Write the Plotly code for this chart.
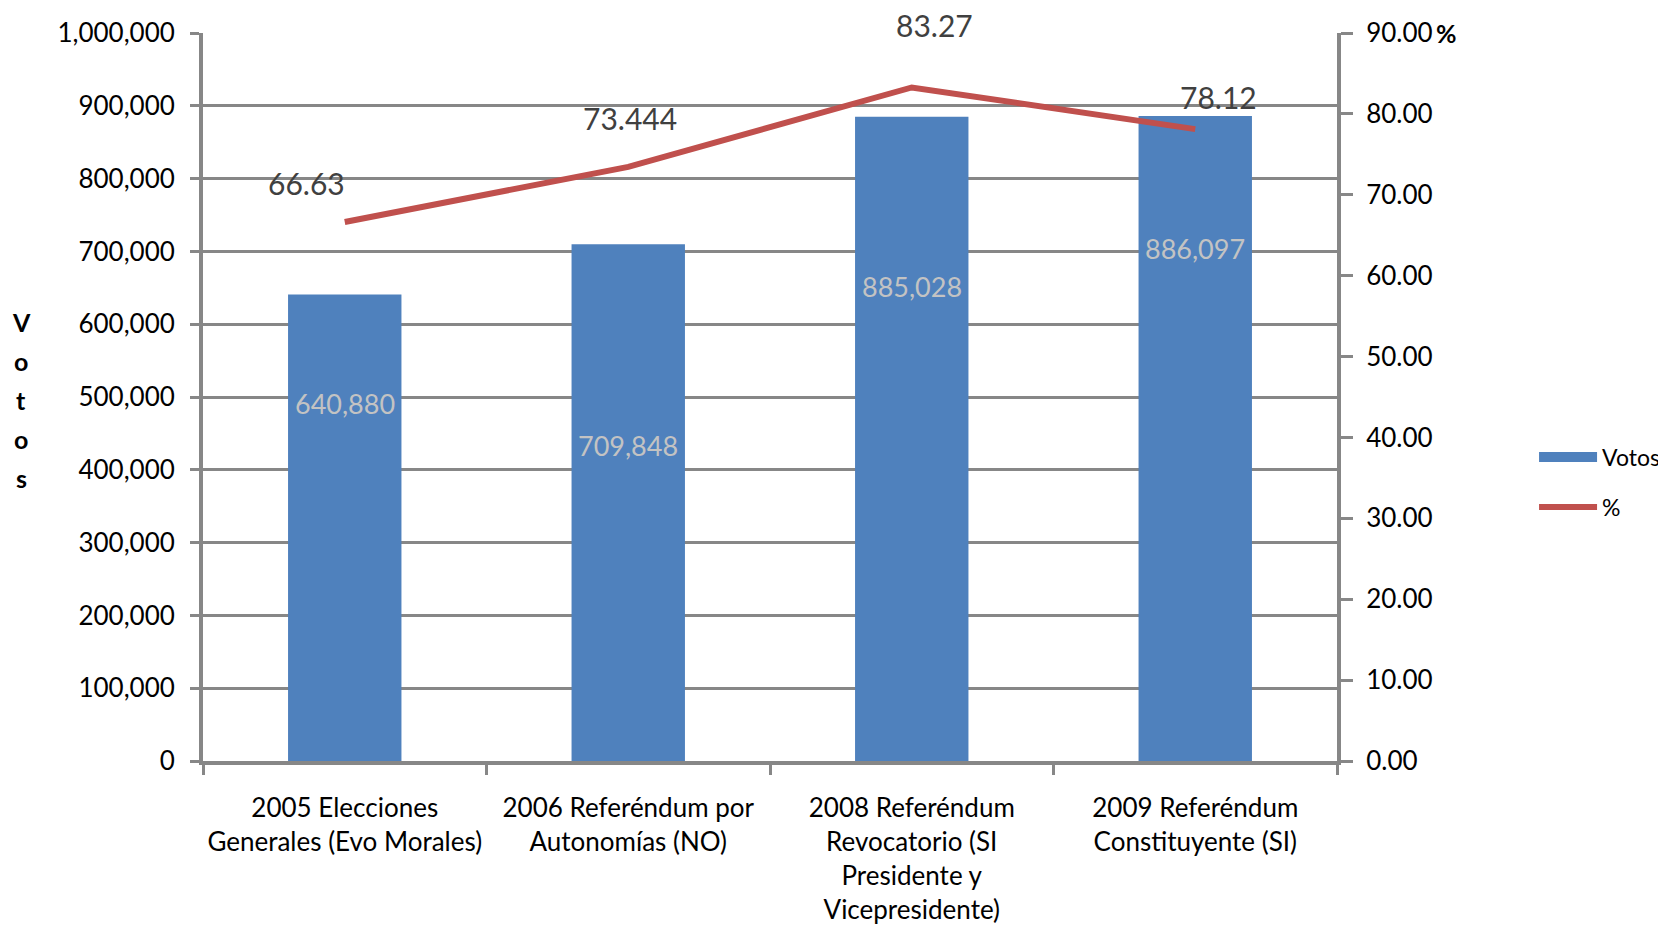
import plotly.graph_objects as go

categories = [
    "2005 Elecciones<br>Generales (Evo Morales)",
    "2006 Referéndum por<br>Autonomías (NO)",
    "2008 Referéndum<br>Revocatorio (SI<br>Presidente y<br>Vicepresidente)",
    "2009 Referéndum<br>Constituyente (SI)",
]
votos = [640880, 709848, 885028, 886097]
votos_labels = ["640,880", "709,848", "885,028", "886,097"]
pct = [66.63, 73.444, 83.27, 78.12]
pct_labels = ["66.63", "73.444", "83.27", "78.12"]
y_title_letters = ["V", "o", "t", "o", "s"]

# label placement offsets (pixels), as in the original chart
pct_label_dx = [-38, 2, 23, 23]
pct_label_dy = [39, 49, 62, 32]
votos_label_dy = [-109, -201, -170, -133]

FONT = "Lato"
GRID = "#878787"
BLUE = "#4F81BD"
RED = "#C0504D"

fig = go.Figure()
fig.add_trace(go.Bar(
    x=categories, y=votos, name="Votos", showlegend=False,
    marker=dict(color=BLUE, line=dict(width=0)),
))
fig.add_trace(go.Scatter(
    x=categories, y=pct, name="%", yaxis="y2", mode="lines",
    line=dict(color=RED, width=6), legendgroup="b", legendrank=2,
))
# legend swatch for the bars (wide rectangle as in original)
fig.add_trace(go.Scatter(
    x=[None], y=[None], name="Votos", mode="lines",
    line=dict(color=BLUE, width=14), legendgroup="a", legendrank=1,
))

ann = []
for c, v, t, dy in zip(categories, votos, votos_labels, votos_label_dy):
    ann.append(dict(x=c, y=v, xref="x", yref="y", text=t, showarrow=False,
                    yshift=dy, yanchor="middle",
                    font=dict(family=FONT, size=27, color="#C3C3C3")))
for c, v, t, dx, dy in zip(categories, pct, pct_labels, pct_label_dx, pct_label_dy):
    ann.append(dict(x=c, y=v, xref="x", yref="y2", text=t, showarrow=False,
                    xshift=dx, yshift=dy, yanchor="middle",
                    font=dict(family=FONT, size=30, color="#404040")))
ann.append(dict(x=1, y=90, xref="paper", yref="y2", text="<b>%</b>", showarrow=False,
                xanchor="left", yanchor="middle", xshift=97,
                font=dict(family=FONT, size=25, color="black")))
for i, ch in enumerate(y_title_letters):
    ann.append(dict(x=0, y=0.496, xref="paper", yref="paper", xanchor="center",
                    yanchor="middle", xshift=-182, yshift=(2 - i) * 39,
                    text="<b>%s</b>" % ch, showarrow=False,
                    font=dict(family=FONT, size=25, color="black")))

fig.update_layout(
    width=1666, height=926,
    margin=dict(l=195, r=337, t=25, b=173),
    paper_bgcolor="white", plot_bgcolor="white",
    bargap=0.6,
    showlegend=True,
    legend=dict(xref="container", yref="container", x=0.916, y=0.488,
                xanchor="left", yanchor="middle",
                font=dict(family=FONT, size=23, color="black"),
                tracegroupgap=17, itemwidth=58, traceorder="grouped"),
    annotations=ann,
    font=dict(family=FONT, size=26, color="black"),
    xaxis=dict(
        tickson="boundaries", ticks="outside", ticklen=10, tickwidth=3, tickcolor=GRID,
        showline=True, linecolor=GRID, linewidth=4, showgrid=False,
        tickfont=dict(family=FONT, size=26, color="black"),
        ticklabelstandoff=21, tickangle=0, automargin=False,
    ),
    yaxis=dict(
        range=[0, 1000000], dtick=100000, tickformat=",",
        showgrid=True, gridcolor=GRID, gridwidth=3,
        showline=True, linecolor=GRID, linewidth=4,
        ticks="outside", ticklen=9, tickwidth=3, tickcolor=GRID,
        tickfont=dict(family=FONT, size=26, color="black"),
        ticklabelstandoff=10, zeroline=False, automargin=False,
    ),
    yaxis2=dict(
        range=[0, 90], dtick=10, tickformat=".2f", overlaying="y", side="right",
        showgrid=False, showline=True, linecolor=GRID, linewidth=4,
        ticks="outside", ticklen=12, tickwidth=3, tickcolor=GRID,
        tickfont=dict(family=FONT, size=26, color="black"),
        ticklabelstandoff=8, zeroline=False, automargin=False,
    ),
)

fig.write_html("out.html")
